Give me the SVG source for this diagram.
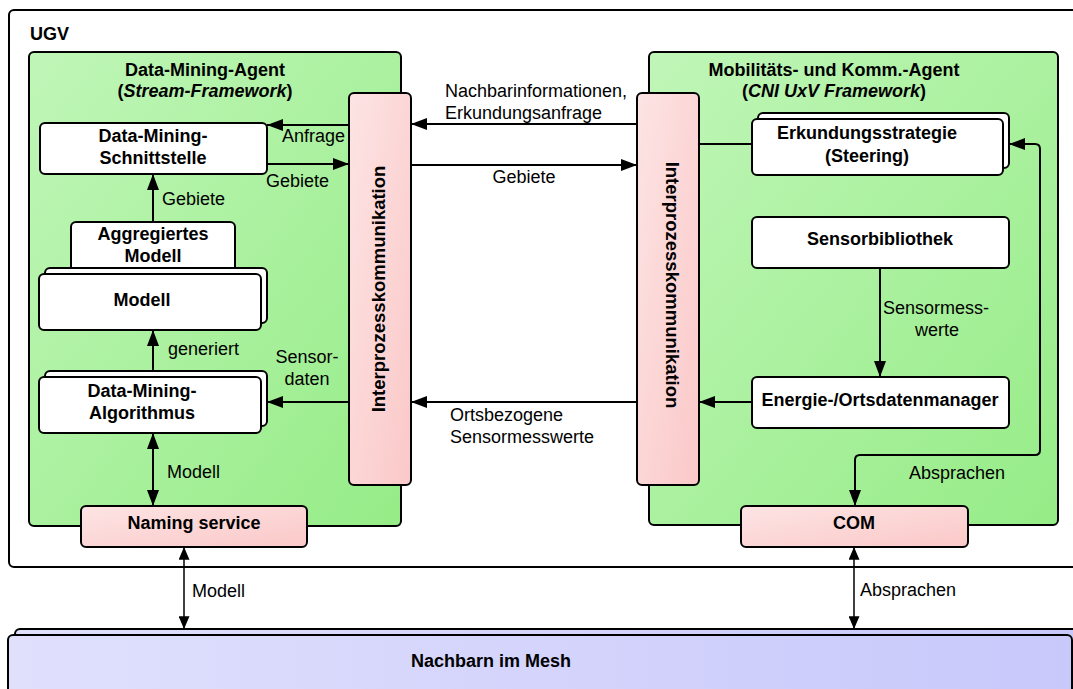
<svg xmlns="http://www.w3.org/2000/svg" width="1073" height="689" viewBox="0 0 1073 689">
<defs>
<linearGradient id="gGreen" x1="0" y1="0" x2="1" y2="1"><stop offset="0" stop-color="#c0f6b8"/><stop offset="1" stop-color="#96ec87"/></linearGradient>
<linearGradient id="gPink" x1="0" y1="0" x2="1" y2="1"><stop offset="0" stop-color="#fde4e4"/><stop offset="1" stop-color="#fbc8c8"/></linearGradient>
<linearGradient id="gBlue" x1="0" y1="0" x2="1" y2="0"><stop offset="0" stop-color="#e0e0fd"/><stop offset="1" stop-color="#c8c8fb"/></linearGradient>
<marker id="ah" viewBox="0 0 16 12" refX="16" refY="6" markerWidth="16" markerHeight="12" markerUnits="userSpaceOnUse" orient="auto-start-reverse"><path d="M0,0 L16,6 L0,12 Z" fill="#000"/></marker>
<marker id="ahs" viewBox="0 0 14 12" refX="14" refY="6" markerWidth="14" markerHeight="11" markerUnits="userSpaceOnUse" orient="auto-start-reverse"><path d="M0,0 L14,6 L0,12 Z" fill="#000"/></marker>
<style>
.t{font-family:"Liberation Sans",Arial,sans-serif;font-size:18px;fill:#000}
.b{font-weight:bold}
.c{text-anchor:middle}
.v{font-size:18.5px}
.n{fill:#fff;stroke:#000;stroke-width:2}
.g{fill:url(#gGreen);stroke:#000;stroke-width:2}
.p{fill:url(#gPink);stroke:#000;stroke-width:2}
.l{fill:none;stroke:#000;stroke-width:2}
.ls{fill:none;stroke:#000;stroke-width:1.5}
</style>
</defs>
<g id="ugv">
<rect x="9" y="10" width="1080" height="557" rx="5" fill="#fff" stroke="#000" stroke-width="2"/>
<text class="t b" x="30" y="40">UGV</text>
</g>
<g id="dm-agent">
<rect class="g" x="29" y="52" width="372" height="474" rx="5"/>
<text class="t b c" x="205" y="76">Data-Mining-Agent</text>
<text class="t b c" x="205" y="97">(<tspan font-style="italic">Stream-Framework</tspan>)</text>
</g>
<g id="mk-agent">
<rect class="g" x="649" y="52" width="409" height="473" rx="5"/>
<text class="t b c" x="834" y="76">Mobilitäts- und Komm.-Agent</text>
<text class="t b c" x="834" y="97">(<tspan font-style="italic">CNI UxV Framework</tspan>)</text>
</g>
<g id="schnittstelle">
<rect class="n" x="40" y="123" width="227" height="51" rx="5"/>
<text class="t b c" x="153" y="142">Data-Mining-</text>
<text class="t b c" x="153" y="164">Schnittstelle</text>
</g>
<g id="aggregiert">
<rect class="n" x="71" y="222" width="164" height="60" rx="5"/>
<text class="t b c" x="153" y="240">Aggregiertes</text>
<text class="t b c" x="153" y="262">Modell</text>
</g>
<g id="modell">
<rect class="n" x="45" y="268" width="222" height="55" rx="5"/>
<rect class="n" x="39" y="274" width="222" height="56" rx="5"/>
<text class="t b c" x="142" y="306">Modell</text>
</g>
<g id="algorithmus">
<rect class="n" x="45" y="371" width="222" height="55" rx="5"/>
<rect class="n" x="39" y="377" width="222" height="56" rx="5"/>
<text class="t b c" x="142" y="397">Data-Mining-</text>
<text class="t b c" x="142" y="419">Algorithmus</text>
</g>
<g id="naming">
<rect class="p" x="81" y="506" width="226" height="41" rx="5"/>
<text class="t b c" x="194" y="529">Naming service</text>
</g>
<g id="ipc-left">
<rect class="p" x="349" y="93" width="62" height="392" rx="5"/>
<text class="t b c v" transform="translate(385,289) rotate(-90)">Interprozesskommunikation</text>
</g>
<g id="ipc-right">
<rect class="p" x="637" y="93" width="62" height="392" rx="5"/>
<text class="t b c v" transform="translate(666,285) rotate(90)">Interprozesskommunikation</text>
</g>
<g id="erkundung">
<rect class="n" x="758" y="113" width="251" height="55" rx="5"/>
<rect class="n" x="752" y="119" width="251" height="56" rx="5"/>
<text class="t b c" x="867" y="139">Erkundungsstrategie</text>
<text class="t b c" x="867" y="162">(Steering)</text>
</g>
<g id="sensorbib">
<rect class="n" x="752" y="217" width="257" height="51" rx="5"/>
<text class="t b c" x="880" y="245">Sensorbibliothek</text>
</g>
<g id="energie">
<rect class="n" x="752" y="377" width="257" height="51" rx="5"/>
<text class="t b c" x="880" y="406">Energie-/Ortsdatenmanager</text>
</g>
<g id="com">
<rect class="p" x="741" y="506" width="227" height="41" rx="5"/>
<text class="t b c" x="854" y="529">COM</text>
</g>
<g id="nachbarn">
<rect x="15" y="629" width="1070" height="80" rx="5" fill="url(#gBlue)" stroke="#000" stroke-width="2"/>
<rect x="8" y="635" width="1064" height="80" rx="5" fill="url(#gBlue)" stroke="#000" stroke-width="2"/>
<text class="t b c" x="491" y="667">Nachbarn im Mesh</text>
</g>
<g id="connectors">
<path class="l" d="M349,125 L267,125" marker-end="url(#ah)"/>
<path class="l" d="M267,164 L349,164" marker-end="url(#ah)"/>
<path class="l" d="M153,222 L153,174" marker-end="url(#ah)"/>
<path class="l" d="M153,371 L153,330" marker-end="url(#ah)"/>
<path class="l" d="M153,433 L153,506" marker-start="url(#ah)" marker-end="url(#ah)"/>
<path class="l" d="M349,402 L267,402" marker-end="url(#ah)"/>
<path class="l" d="M637,124 L411,124" marker-end="url(#ah)"/>
<path class="l" d="M411,165 L637,165" marker-end="url(#ah)"/>
<path class="l" d="M637,402 L411,402" marker-end="url(#ah)"/>
<path class="l" d="M699,144 L752,144"/>
<path class="l" d="M880,268 L880,377" marker-end="url(#ah)"/>
<path class="l" d="M752,402 L699,402" marker-end="url(#ah)"/>
<path class="l" d="M855,506 L855,460 Q855,455 860,455 L1035,455 Q1040,455 1040,450 L1040,149 Q1040,144 1035,144 L1009,144" marker-start="url(#ah)" marker-end="url(#ah)"/>
<path class="ls" d="M184,547 L184,629" marker-start="url(#ahs)" marker-end="url(#ahs)"/>
<path class="ls" d="M854,547 L854,629" marker-start="url(#ahs)" marker-end="url(#ahs)"/>
<text class="t" x="282" y="142">Anfrage</text>
<text class="t" x="266" y="187">Gebiete</text>
<text class="t" x="162" y="205">Gebiete</text>
<text class="t" x="168" y="355">generiert</text>
<text class="t c" x="307" y="363">Sensor-</text>
<text class="t c" x="307" y="385">daten</text>
<text class="t" x="167" y="478">Modell</text>
<text class="t" x="445" y="97">Nachbarinformationen,</text>
<text class="t" x="445" y="119">Erkundungsanfrage</text>
<text class="t c" x="524" y="183">Gebiete</text>
<text class="t" x="450" y="421">Ortsbezogene</text>
<text class="t" x="450" y="443">Sensormesswerte</text>
<text class="t" x="883" y="314">Sensormess-</text>
<text class="t c" x="937" y="336">werte</text>
<text class="t" x="909" y="479">Absprachen</text>
<text class="t" x="192" y="597">Modell</text>
<text class="t" x="860" y="596">Absprachen</text>
</g>
</svg>
